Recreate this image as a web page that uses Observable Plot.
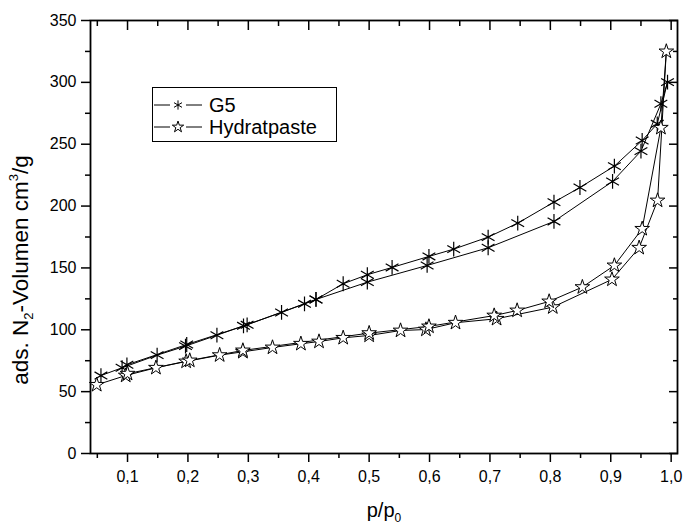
<!DOCTYPE html>
<html>
<head>
<meta charset="utf-8">
<script src="https://cdn.jsdelivr.net/npm/d3@7"></script>
<script src="https://cdn.jsdelivr.net/npm/@observablehq/plot@0.6"></script>
<style>
  html, body { margin: 0; padding: 0; background: #fff; }
  #wrap { position: relative; width: 685px; height: 529px; font-family: "Liberation Sans", Arial, sans-serif; }
  #legend { position: absolute; left: 152px; top: 87px; width: 185px; height: 55px; border: 1px solid #000; background: #fff; box-sizing: border-box; }
  .row { position: absolute; left: 0; height: 22px; display: flex; align-items: center; }
  .row span { font-size: 20px; color: #000; margin-left: 6px; }
</style>
</head>
<body>
<div id="wrap"></div>
<script>
// Tick values
const xMajor = [0.1, 0.2, 0.3, 0.4, 0.5, 0.6, 0.7, 0.8, 0.9, 1.0];
const xMinor = [0.05, 0.15, 0.25, 0.35, 0.45, 0.55, 0.65, 0.75, 0.85, 0.95];
const yMajor = [0, 50, 100, 150, 200, 250, 300, 350];
const yMinor = [25, 75, 125, 175, 225, 275, 325];

// Series names
const seriesNames = ["G5", "Hydratpaste"];

// G5: adsorption then desorption (p/p0, volume)
const g5P = [0.056, 0.091, 0.149, 0.196, 0.248, 0.292, 0.355, 0.393, 0.412, 0.497, 0.596, 0.697, 0.806, 0.903, 0.950, 0.983, 0.994,
             0.977, 0.952, 0.906, 0.849, 0.806, 0.746, 0.697, 0.640, 0.599, 0.538, 0.497, 0.457, 0.412, 0.298, 0.198, 0.099];
const g5V = [63, 69.3, 79.5, 86.8, 95.6, 103.2, 114, 121, 124.5, 138.5, 152, 166.3, 187.6, 219.9, 244.4, 282.7, 300.2,
             266.5, 253, 232.3, 215, 203.2, 186.2, 174.9, 165.2, 159.3, 150.4, 144.5, 137.2, 124.5, 104, 88.1, 71.7];

// Hydratpaste: adsorption then desorption
const hydP = [0.049, 0.097, 0.147, 0.197, 0.2525, 0.291, 0.340, 0.387, 0.417, 0.457, 0.500, 0.552, 0.594, 0.643, 0.711, 0.804, 0.902, 0.947, 0.9775, 0.992,
              0.983, 0.952, 0.906, 0.853, 0.798, 0.745, 0.707, 0.599, 0.500, 0.291, 0.203, 0.100];
const hydV = [55.5, 63, 69.3, 74.4, 79.5, 82.2, 85.7, 88.7, 90.5, 93.5, 95.4, 99.4, 100.2, 105.7, 108.9, 118.3, 140.7, 166.3, 204.5, 325,
              263.3, 181.6, 152, 134.5, 122.9, 115.6, 111.5, 102.7, 97.3, 83.3, 75.2, 64.5];

const g5 = g5P.map((p, i) => ({p, v: g5V[i]}));
const hyd = hydP.map((p, i) => ({p, v: hydV[i]}));

const comma = d => d.toFixed(1).replace(".", ",");
const blank = () => "";

const chart = Plot.plot({
  width: 685,
  height: 529,
  marginLeft: 90,
  marginRight: 8,
  marginTop: 20,
  marginBottom: 76,
  style: {fontFamily: "Liberation Sans, Arial, sans-serif", fontSize: "16px", color: "#000", background: "#fff"},
  x: {domain: [0.0387, 1.0105]},
  y: {domain: [0, 350]},
  marks: [
    Plot.axisX({ticks: xMajor, tickSize: 9, tickPadding: 8, tickFormat: comma, label: null, fontSize: 16, strokeWidth: 1.5}),
    Plot.axisX({ticks: xMinor, tickSize: 5, tickFormat: blank, label: null, strokeWidth: 1.5}),
    Plot.axisX({anchor: "top", ticks: xMajor, tickSize: -9, tickFormat: blank, label: null, strokeWidth: 1.5}),
    Plot.axisX({anchor: "top", ticks: xMinor, tickSize: -5, tickFormat: blank, label: null, strokeWidth: 1.5}),
    Plot.axisY({ticks: yMajor, tickSize: 9, tickPadding: 5, label: null, fontSize: 16, strokeWidth: 1.5}),
    Plot.axisY({ticks: yMinor, tickSize: 5, tickFormat: blank, label: null, strokeWidth: 1.5}),
    Plot.axisY({anchor: "right", ticks: yMajor, tickSize: -9, tickFormat: blank, label: null, strokeWidth: 1.5}),
    Plot.axisY({anchor: "right", ticks: yMinor, tickSize: -5, tickFormat: blank, label: null, strokeWidth: 1.5}),
    Plot.frame({stroke: "#000", strokeWidth: 1.8}),
    Plot.line(g5, {x: "p", y: "v", stroke: "#000", strokeWidth: 1}),
    Plot.line(hyd, {x: "p", y: "v", stroke: "#000", strokeWidth: 1}),
    Plot.dot(g5, {x: "p", y: "v", symbol: "asterisk", r: 7, stroke: "#000", strokeWidth: 1.2}),
    Plot.dot(hyd, {x: "p", y: "v", symbol: "star", r: 4.6, fill: "#fff", stroke: "#000", strokeWidth: 1})
  ]
});

const wrap = document.getElementById("wrap");
wrap.appendChild(chart);

// Axis titles with sub/superscripts
const svg = d3.select(chart);
const xt = svg.append("text")
  .attr("x", 384).attr("y", 517)
  .attr("text-anchor", "middle")
  .attr("font-size", 20)
  .attr("fill", "#000");
xt.append("tspan").text("p/p");
xt.append("tspan").attr("font-size", 12).attr("dy", 5).text("0");

const yt = svg.append("text")
  .attr("transform", "translate(28,270) rotate(-90)")
  .attr("text-anchor", "middle")
  .attr("font-size", 22.5)
  .attr("fill", "#000");
yt.append("tspan").text("ads. N");
yt.append("tspan").attr("font-size", 13).attr("dy", 5).text("2");
yt.append("tspan").attr("dy", -5).text("-Volumen cm");
yt.append("tspan").attr("font-size", 13).attr("dy", -10).text("3");
yt.append("tspan").attr("dy", 10).text("/g");

// Legend
const legend = document.createElement("div");
legend.id = "legend";
wrap.appendChild(legend);
const syms = ["asterisk", "star"];
seriesNames.forEach((name, i) => {
  const row = document.createElement("div");
  row.className = "row";
  row.style.top = (6 + i * 22) + "px";
  const s = d3.create("svg").attr("width", 50).attr("height", 22);
  s.append("line").attr("x1", 1).attr("x2", 49).attr("y1", 11).attr("y2", 11).attr("stroke", "#000").attr("stroke-width", 1);
  s.append("rect").attr("x", 17).attr("y", 5).attr("width", 16).attr("height", 12).attr("fill", "#fff");
  const sym = syms[i] === "asterisk" ? d3.symbolAsterisk : d3.symbolStar;
  s.append("path").attr("transform", "translate(25,11)")
    .attr("d", d3.symbol(sym, i === 0 ? 60 : 40)())
    .attr("fill", "#fff").attr("stroke", "#000").attr("stroke-width", 1);
  row.appendChild(s.node());
  const t = document.createElement("span");
  t.textContent = name;
  row.appendChild(t);
  legend.appendChild(row);
});
</script>
</body>
</html>
